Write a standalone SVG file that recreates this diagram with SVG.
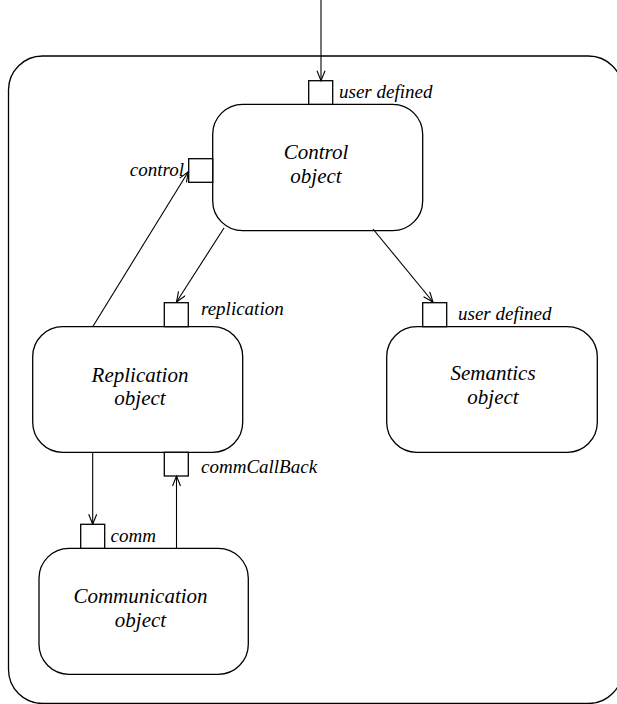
<svg xmlns="http://www.w3.org/2000/svg" width="617" height="704" viewBox="0 0 617 704">
<style>
.box{fill:#fff;stroke:#000;stroke-width:1.3}
.port{fill:#fff;stroke:#000;stroke-width:1.3}
.edge{fill:none;stroke:#000;stroke-width:1.1}
.big{font-family:"Liberation Serif","Times New Roman",serif;font-style:italic;font-size:21px;text-anchor:middle;fill:#000}
.small{font-family:"Liberation Serif","Times New Roman",serif;font-style:italic;font-size:19px;fill:#000}
</style>
<defs>
<marker id="arr" markerUnits="userSpaceOnUse" markerWidth="12" markerHeight="10" refX="11" refY="4.5" orient="auto">
<path d="M1,0.5 L11,4.5 L1,8.5" fill="none" stroke="#000" stroke-width="1.1"/>
</marker>
</defs>
<rect id="frame" x="8.5" y="56" width="614" height="647.5" rx="34" ry="34" fill="none" stroke="#000" stroke-width="1.3"/>
<g id="control">
<rect class="box" x="212.7" y="104.3" width="210" height="126.4" rx="30" ry="30"/>
<text class="big" x="316" y="159">Control</text>
<text class="big" x="316" y="183">object</text>
<rect class="port" x="308.7" y="80.7" width="24" height="23.6"/>
<text class="small" x="339" y="98">user defined</text>
<rect class="port" x="188.7" y="158.7" width="24" height="23.6"/>
<text class="small" x="184" y="176" text-anchor="end">control</text>
</g>
<g id="replication">
<rect class="box" x="32.7" y="326.7" width="210" height="125.6" rx="30" ry="30"/>
<text class="big" x="140" y="381.5">Replication</text>
<text class="big" x="140" y="405">object</text>
<rect class="port" x="164.3" y="302.7" width="24" height="24"/>
<text class="small" x="201" y="315">replication</text>
<rect class="port" x="164.3" y="452.3" width="24" height="23.7"/>
<text class="small" x="201" y="473">commCallBack</text>
</g>
<g id="semantics">
<rect class="box" x="386.7" y="326.7" width="210.6" height="125.6" rx="30" ry="30"/>
<text class="big" x="493" y="380">Semantics</text>
<text class="big" x="493" y="404">object</text>
<rect class="port" x="422.7" y="302.7" width="24" height="24"/>
<text class="small" x="458" y="320">user defined</text>
</g>
<g id="communication">
<rect class="box" x="39" y="548.3" width="209.3" height="126" rx="30" ry="30"/>
<text class="big" x="140.5" y="603">Communication</text>
<text class="big" x="140.5" y="627">object</text>
<rect class="port" x="80.7" y="524.3" width="24" height="24"/>
<text class="small" x="110.5" y="541.5">comm</text>
</g>
<g id="connectors">
<line class="edge" x1="321" y1="0" x2="321" y2="80.7" marker-end="url(#arr)"/>
<line class="edge" x1="92.7" y1="326.7" x2="188.3" y2="171.7" marker-end="url(#arr)"/>
<line class="edge" x1="224" y1="228" x2="176.5" y2="302" marker-end="url(#arr)"/>
<line class="edge" x1="373" y1="229" x2="433" y2="302" marker-end="url(#arr)"/>
<line class="edge" x1="92.7" y1="452.3" x2="92.7" y2="524.3" marker-end="url(#arr)"/>
<line class="edge" x1="176.5" y1="548.3" x2="176.5" y2="476" marker-end="url(#arr)"/>
</g>
</svg>
